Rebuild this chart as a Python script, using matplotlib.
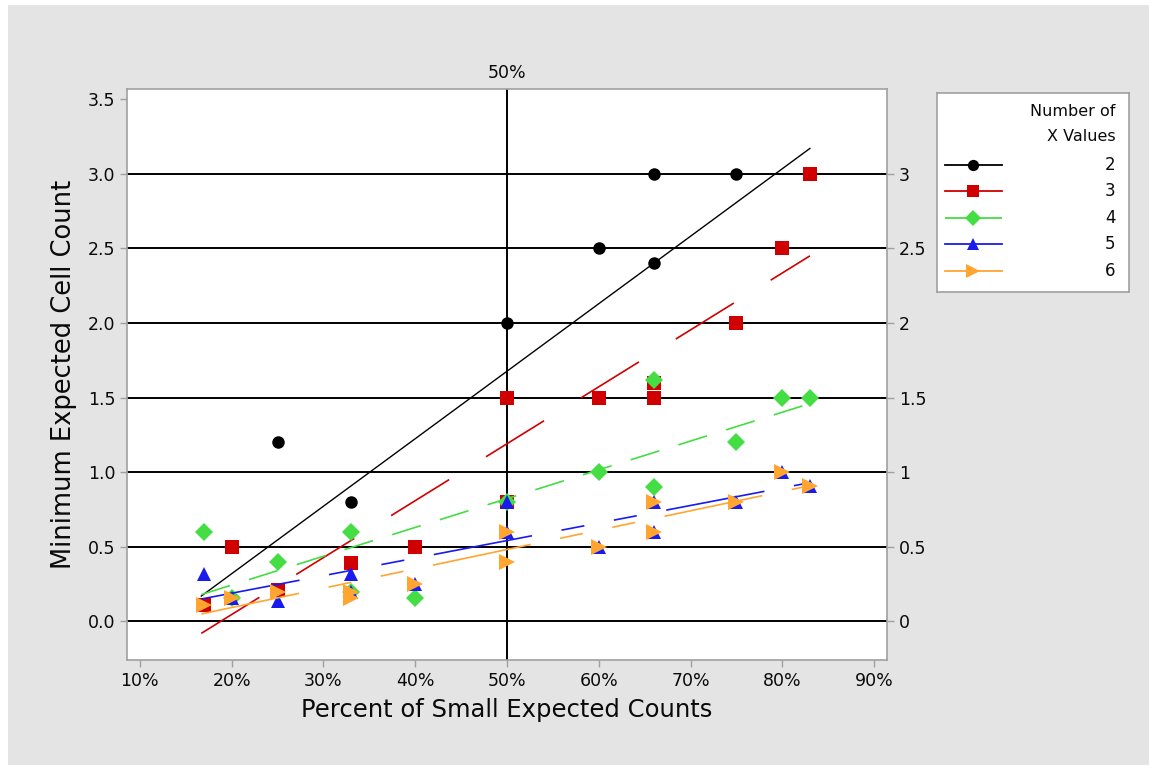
import matplotlib
matplotlib.use("Agg")
import matplotlib.pyplot as plt
from matplotlib.lines import Line2D

# ---- data ----
groups = ["2", "3", "4", "5", "6"]

x2 = [25, 33, 50, 60, 66, 66, 75]
y2 = [1.2, 0.8, 2.0, 2.5, 2.4, 3.0, 3.0]

x3 = [17, 20, 25, 33, 40, 50, 50, 60, 66, 66, 75, 80, 83]
y3 = [0.11, 0.5, 0.21, 0.39, 0.5, 0.8, 1.5, 1.5, 1.5, 1.6, 2.0, 2.5, 3.0]

x4 = [17, 20, 25, 33, 33, 40, 50, 60, 66, 66, 75, 80, 83]
y4 = [0.6, 0.16, 0.4, 0.6, 0.2, 0.16, 0.8, 1.0, 0.9, 1.62, 1.2, 1.5, 1.5]

x5 = [17, 20, 25, 33, 33, 40, 50, 50, 60, 66, 66, 75, 80, 83]
y5 = [0.32, 0.16, 0.14, 0.32, 0.2, 0.25, 0.8, 0.6, 0.5, 0.8, 0.6, 0.8, 1.0, 0.91]

x6 = [17, 20, 25, 33, 33, 40, 50, 50, 60, 66, 66, 75, 80, 83]
y6 = [0.11, 0.16, 0.2, 0.2, 0.16, 0.25, 0.6, 0.4, 0.5, 0.8, 0.6, 0.8, 1.0, 0.91]

# fitted lines (start/end)
fit_x = [16.7, 83]
fit2 = [0.17, 3.17]
fit3 = [-0.08, 2.45]
fit4 = [0.18, 1.46]
fit5 = [0.15, 0.93]
fit6 = [0.05, 0.91]

x_ticks = [10, 20, 30, 40, 50, 60, 70, 80, 90]
y_ticks = [0.0, 0.5, 1.0, 1.5, 2.0, 2.5, 3.0, 3.5]
right_ticks = [0, 0.5, 1, 1.5, 2, 2.5, 3]
right_labels = ["0", "0.5", "1", "1.5", "2", "2.5", "3"]

# ---- styles ----
colors = ["black", "#d00000", "#44dd44", "#1a1aee", "#ffa530"]
markers = ["o", "s", "D", "^", ">"]
msizes = [9, 10, 9, 9.5, 11]
fit_dash = [None, (41, 26), (18, 12), (60, 18, 14, 18, 14, 18), (60, 18, 14, 18, 14, 18)]

xs = [x2, x3, x4, x5, x6]
ys = [y2, y3, y4, y5, y6]
fits = [fit2, fit3, fit4, fit5, fit6]

bg = "#e4e4e4"
grey = "#a0a0a0"
txt = "#0a0a0a"

fig = plt.figure(figsize=(11.49, 7.65), dpi=100)
fig.patch.set_facecolor("white")
fig.add_artist(plt.Rectangle((0.007, 0), 0.993, 0.993, transform=fig.transFigure,
                             facecolor=bg, edgecolor="none", zorder=-10))

ax = fig.add_axes([0.1105, 0.137, 0.6615, 0.747])
ax.set_facecolor("white")
ax.set_xlim(8.6, 91.4)
ax.set_ylim(-0.26, 3.57)

for yv in [0, 0.5, 1, 1.5, 2, 2.5, 3]:
    ax.axhline(yv, color="black", lw=1.4, zorder=1)
ax.axvline(50, color="black", lw=1.4, zorder=1)

for i in range(5):
    ax.plot(xs[i], ys[i], linestyle="none", marker=markers[i], color=colors[i],
            markersize=msizes[i], markeredgewidth=0, zorder=3 + i)
for i in range(5):
    lw = 1.0 if i == 0 else 1.2
    ln, = ax.plot(fit_x, fits[i], color=colors[i], lw=lw, zorder=3 + i)
    if fit_dash[i] is not None:
        ln.set_dashes(fit_dash[i])

ax.set_xticks(x_ticks)
ax.set_xticklabels([f"{v}%" for v in x_ticks])
ax.set_yticks(y_ticks)
ax.set_yticklabels([f"{v:.1f}" for v in y_ticks])
ax.tick_params(colors=grey, labelcolor=txt, labelsize=12.5, length=5, width=1)
for s in ax.spines.values():
    s.set_color(grey)
    s.set_linewidth(1.2)

ax.set_xlabel("Percent of Small Expected Counts", fontsize=17.5, color=txt, labelpad=6)
ax.set_ylabel("Minimum Expected Cell Count", fontsize=18.5, color=txt, labelpad=8,
              fontweight="medium")

axr = ax.twinx()
axr.set_ylim(ax.get_ylim())
axr.set_yticks(right_ticks)
axr.set_yticklabels(right_labels)
axr.tick_params(colors=grey, labelcolor=txt, labelsize=12.5, length=5, width=1)
for s in axr.spines.values():
    s.set_visible(False)

axt = ax.twiny()
axt.set_xlim(ax.get_xlim())
axt.set_xticks([50])
axt.set_xticklabels(["50%"])
axt.tick_params(length=0, labelcolor=txt, labelsize=12.5, pad=5)
for s in axt.spines.values():
    s.set_visible(False)

# legend box drawn by hand
lg = fig.add_axes([0.8155, 0.618, 0.167, 0.2604])
lg.set_xlim(0, 1)
lg.set_ylim(0, 1)
lg.set_xticks([])
lg.set_yticks([])
lg.set_facecolor("white")
for s in lg.spines.values():
    s.set_color(grey)
    s.set_linewidth(1.2)
lg.text(0.93, 0.905, "Number of", ha="right", va="center", fontsize=11.5, color=txt)
lg.text(0.93, 0.78, "X Values", ha="right", va="center", fontsize=11.5, color=txt)
row_y = [0.64, 0.51, 0.375, 0.24, 0.105]
for i in range(5):
    h = Line2D([0.04, 0.34], [row_y[i], row_y[i]], color=colors[i], lw=1.3)
    if i == 2:
        h.set_dashes((14, 4))
    lg.add_line(h)
    lg.plot([0.19], [row_y[i]], marker=markers[i], color=colors[i],
            markersize=msizes[i] * 0.9, markeredgewidth=0, linestyle="none")
    lg.text(0.93, row_y[i], groups[i], ha="right", va="center", fontsize=12, color=txt)

fig.savefig("out.png", dpi=100, facecolor=fig.get_facecolor())
